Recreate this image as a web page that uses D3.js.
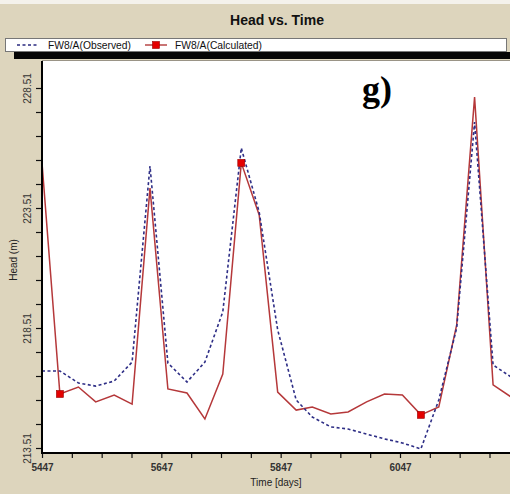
<!DOCTYPE html>
<html>
<head>
<meta charset="utf-8">
<script src="https://cdn.jsdelivr.net/npm/d3@7"></script>
<style>
  body { margin: 0; background: #fff; }
  svg { display: block; font-family: "Liberation Sans", Arial, sans-serif; }
</style>
</head>
<body>
<svg id="chart" width="510" height="494"></svg>
<script>
// time in days, one reading roughly every month
var times = [5447, 5477, 5508, 5537, 5568, 5598, 5628, 5658, 5690, 5720, 5750, 5781, 5811,
             5842, 5873, 5900, 5931, 5960, 5991, 6021, 6051, 6082, 6112, 6142, 6172, 6203, 6233];
var observed = [216.72, 216.72, 216.22, 216.09, 216.30, 217.09, 225.26, 217.05, 216.26, 217.09,
                219.18, 226.01, 223.34, 218.43, 215.51, 214.80, 214.39, 214.30, 214.09, 213.89,
                213.72, 213.47, 215.51, 218.51, 227.09, 216.97, 216.47];
var calculated = [225.39, 215.76, 216.05, 215.43, 215.72, 215.34, 224.34, 215.97, 215.80, 214.72,
                  216.59, 225.39, 223.22, 215.84, 215.09, 215.22, 214.93, 215.01, 215.43, 215.76,
                  215.72, 214.89, 215.22, 218.64, 228.13, 216.14, 215.64];
var markerIdx = [1, 11, 21];   // where the calculated series gets its red squares
var yTickLabels = [213.51, 218.51, 223.51, 228.51];
var xTickLabels = [5447, 5647, 5847, 6047];
var seriesNames = ['FW8/A(Observed)', 'FW8/A(Calculated)'];

var svg = d3.select('#chart');
var beige = '#ddd5bd';
var plot = {left: 42, top: 62, right: 520, bottom: 453};

svg.append('rect').attr('width', 510).attr('height', 494).attr('fill', beige);
svg.append('rect').attr('width', 510).attr('height', 4).attr('fill', '#f4f2ec');

// title
svg.append('text')
    .attr('x', 277).attr('y', 25)
    .attr('text-anchor', 'middle')
    .attr('font-size', 14).attr('font-weight', 'bold').attr('fill', '#111')
    .text('Head vs. Time');

// legend box + dark strip under it
svg.append('rect')
    .attr('x', 5.5).attr('y', 38.5).attr('width', 501).attr('height', 13)
    .attr('fill', '#fff').attr('stroke', '#777');
svg.append('rect')
    .attr('x', 14).attr('y', 52).attr('width', 500).attr('height', 7)
    .attr('fill', '#050505');

var legend = svg.append('g').attr('class', 'legend');
legend.append('line')
    .attr('x1', 17).attr('x2', 38).attr('y1', 45).attr('y2', 45)
    .attr('stroke', '#2a2a80').attr('stroke-width', 1.3).attr('stroke-dasharray', '3,2.5');
legend.append('text')
    .attr('x', 48).attr('y', 48.8).attr('font-size', 10.3).attr('fill', '#111')
    .text(seriesNames[0]);
legend.append('line')
    .attr('x1', 145).attr('x2', 167).attr('y1', 45).attr('y2', 45)
    .attr('stroke', '#b23a3a').attr('stroke-width', 1.4);
legend.append('rect')
    .attr('x', 152.5).attr('y', 41.5).attr('width', 7).attr('height', 7)
    .attr('fill', '#e40000').attr('stroke', '#9a0000').attr('stroke-width', 0.6);
legend.append('text')
    .attr('x', 175).attr('y', 48.8).attr('font-size', 10.3).attr('fill', '#111')
    .text(seriesNames[1]);

// plot area
svg.append('rect')
    .attr('x', plot.left).attr('y', plot.top - 1)
    .attr('width', plot.right - plot.left).attr('height', plot.bottom - plot.top + 1)
    .attr('fill', '#fff');
svg.append('line')
    .attr('x1', plot.left).attr('x2', 510).attr('y1', plot.top - 1.5).attr('y2', plot.top - 1.5)
    .attr('stroke', '#9a9486').attr('stroke-width', 1);

var x = d3.scaleLinear().domain([5447, 6047]).range([plot.left, 400]);
var y = d3.scaleLinear().domain([213.51, 228.51]).range([448, 88]);

var xTicks = d3.range(5447, 6300, 50);
var yTicks = d3.range(213.51, 229, 1);

var xAxis = d3.axisBottom(x)
    .tickValues(xTicks)
    .tickSize(5)
    .tickFormat(function(d) { return xTickLabels.indexOf(d) >= 0 ? d : ''; });
var gx = svg.append('g')
    .attr('transform', 'translate(0,' + plot.bottom + ')')
    .call(xAxis);
gx.select('.domain').remove();
gx.selectAll('.tick line').attr('stroke', '#111').attr('stroke-width', 1.2);
gx.selectAll('.tick text')
    .attr('y', 11).attr('font-size', 10).attr('font-weight', 'bold')
    .attr('fill', '#333').attr('font-family', '"Liberation Sans", Arial, sans-serif');

var yAxis = d3.axisLeft(y)
    .tickValues(yTicks)
    .tickSize(6)
    .tickFormat(function(d) {
        var hit = yTickLabels.filter(function(v) { return Math.abs(v - d) < 1e-6; });
        return hit.length ? hit[0].toFixed(2) : '';
    });
var gy = svg.append('g')
    .attr('transform', 'translate(' + plot.left + ',0)')
    .call(yAxis);
gy.select('.domain').remove();
gy.selectAll('.tick line').attr('stroke', '#111').attr('stroke-width', 1.2);
gy.selectAll('.tick text')
    .attr('x', null).attr('dy', null)
    .attr('transform', 'translate(-11,0) rotate(-90)')
    .attr('text-anchor', 'middle')
    .attr('font-size', 10).attr('fill', '#333')
    .attr('font-family', '"Liberation Sans", Arial, sans-serif');

// axis lines (thick, black)
svg.append('line')
    .attr('x1', plot.left).attr('x2', plot.left).attr('y1', plot.top - 1).attr('y2', plot.bottom + 1)
    .attr('stroke', '#000').attr('stroke-width', 2);
svg.append('line')
    .attr('x1', plot.left - 1).attr('x2', 510).attr('y1', plot.bottom).attr('y2', plot.bottom)
    .attr('stroke', '#000').attr('stroke-width', 2);

// axis titles
svg.append('text')
    .attr('transform', 'translate(17,260) rotate(-90)')
    .attr('text-anchor', 'middle').attr('font-size', 10).attr('fill', '#222')
    .text('Head (m)');
svg.append('text')
    .attr('x', 276).attr('y', 486)
    .attr('text-anchor', 'middle').attr('font-size', 10).attr('fill', '#222')
    .text('Time  [days]');

svg.append('clipPath').attr('id', 'plotClip')
    .append('rect')
    .attr('x', plot.left + 1).attr('y', plot.top)
    .attr('width', plot.right - plot.left).attr('height', plot.bottom - plot.top - 1);

var lines = svg.append('g').attr('clip-path', 'url(#plotClip)');

var line = function(vals) {
    return d3.line()
        .x(function(d, i) { return x(times[i]); })
        .y(function(d) { return y(d); })(vals);
};

lines.append('path')
    .attr('d', line(calculated))
    .attr('fill', 'none').attr('stroke', '#b5383a').attr('stroke-width', 1.5);

lines.append('path')
    .attr('d', line(observed))
    .attr('fill', 'none').attr('stroke', '#2e2e86').attr('stroke-width', 1.6)
    .attr('stroke-dasharray', '3,2.5');

lines.selectAll('.marker')
    .data(markerIdx)
    .enter()
    .append('rect')
    .attr('class', 'marker')
    .attr('x', function(i) { return x(times[i]) - 3.5; })
    .attr('y', function(i) { return y(calculated[i]) - 3.5; })
    .attr('width', 7).attr('height', 7)
    .attr('fill', '#e40000').attr('stroke', '#9a0000').attr('stroke-width', 0.6);

// panel letter
svg.append('text')
    .attr('x', 362).attr('y', 101)
    .attr('font-family', '"Liberation Serif", "Times New Roman", serif')
    .attr('font-size', 36).attr('font-weight', 'bold').attr('fill', '#000')
    .text('g)');
</script>
</body>
</html>
